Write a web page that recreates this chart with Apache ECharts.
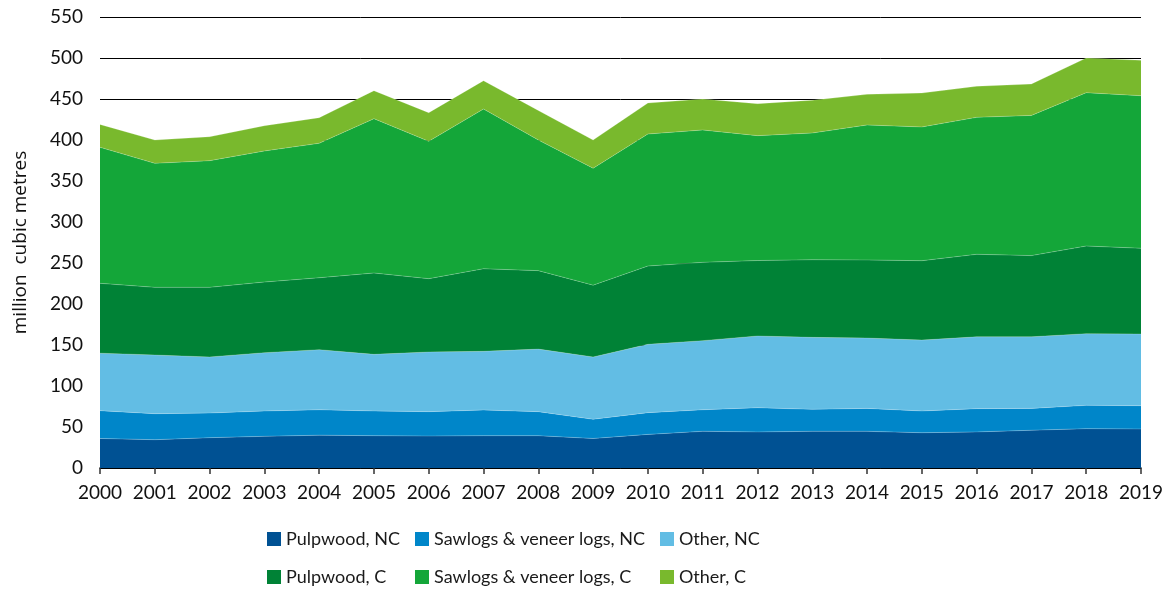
<!DOCTYPE html>
<html>
<head>
<meta charset="utf-8">
<script src="https://cdn.jsdelivr.net/npm/echarts@6/dist/echarts.min.js"></script>
<style>html,body{margin:0;padding:0;background:#fff}#c{width:1167px;height:589px}</style>
</head>
<body>
<div id="c"></div>
<script>
const years = ['2000','2001','2002','2003','2004','2005','2006','2007','2008','2009','2010','2011','2012','2013','2014','2015','2016','2017','2018','2019'];
const seriesNames = ['Pulpwood, NC','Sawlogs & veneer logs, NC','Other, NC','Pulpwood, C','Sawlogs & veneer logs, C','Other, C'];
const pulpwoodNC = [36,34.5,37,38.6,40,39.4,39,39.4,39.4,36,41,44.7,44,44.7,44.7,43,44,46,48,47.6];
const sawlogsNC = [33.9,31.7,30,30.9,31,30.1,29.7,31.3,29.3,23.4,26.5,26.3,29.5,26.8,28,26.5,28.4,26.7,28.4,28.4];
const otherNC = [70.1,71.6,68.4,71.1,73.3,69.1,72.8,71.6,76.3,76,83.3,84.3,87.5,87.8,85.8,86.5,87.6,87.3,87.4,87.4];
const pulpwoodC = [85.2,82.5,84.9,86.2,87.7,99.2,89.4,100.7,95.7,87.6,95.5,95.5,92,94.7,95.2,96.8,100.6,99,106.9,104.6];
const sawlogsC = [165.9,151.2,154.5,159.8,164,188.2,167.5,194.8,159.3,142.5,161,161.4,152.3,154.5,164.6,163.1,167,171,187,186];
const otherC = [27.9,28.5,29.2,30.8,31.2,34.1,34.9,34.5,36,34.5,37.8,37.8,39,40,37.4,41.4,37.9,38.3,42.3,43.2];
const colors = ['#005193','#0086c9','#62bde4','#008236','#14a639','#79b92d'];
const dataSets = [pulpwoodNC,sawlogsNC,otherNC,pulpwoodC,sawlogsC,otherC];

const font = 'Lato, "Open Sans", sans-serif';
const legendPos = [[267,530],[415,530],[660,530],[267,568],[415,568],[660,568]];

const chart = echarts.init(document.getElementById('c'));
chart.setOption({
  animation: false,
  color: colors,
  grid: {left: 100, right: 26, top: 17, bottom: 121},
  legend: seriesNames.map((n, i) => ({
    data: [n], left: legendPos[i][0], top: legendPos[i][1],
    icon: 'rect', itemWidth: 14, itemHeight: 14, itemGap: 0,
    textStyle: {fontFamily: font, fontSize: 18, color: '#1a1a1a'},
    padding: 0
  })),
  xAxis: {
    type: 'category', data: years, boundaryGap: false,
    axisLine: {lineStyle: {color: '#000', width: 1.5}},
    axisTick: {show: true, interval: 0, length: 6, lineStyle: {color: '#333', width: 1.5}},
    axisLabel: {interval: 0, hideOverlap: false, fontFamily: font, fontSize: 19, color: '#111', margin: 15}
  },
  yAxis: {
    type: 'value', min: 0, max: 550, interval: 50,
    name: 'million  cubic metres', nameLocation: 'middle', nameGap: 70,
    nameTextStyle: {fontFamily: '"Open Sans", sans-serif', fontSize: 19, color: '#111'},
    axisLine: {show: false}, axisTick: {show: false},
    axisLabel: {fontFamily: font, fontSize: 19, color: '#111', margin: 17},
    splitLine: {lineStyle: {color: '#000', width: 1}}
  },
  series: seriesNames.map((n, i) => ({
    name: n, type: 'line', stack: 'total', data: dataSets[i],
    showSymbol: false, symbol: 'none',
    lineStyle: {width: 0.6, color: 'rgba(255,255,255,0.35)'},
    areaStyle: {color: colors[i], opacity: 1},
    itemStyle: {color: colors[i]}
  }))
});
</script>
</body>
</html>
